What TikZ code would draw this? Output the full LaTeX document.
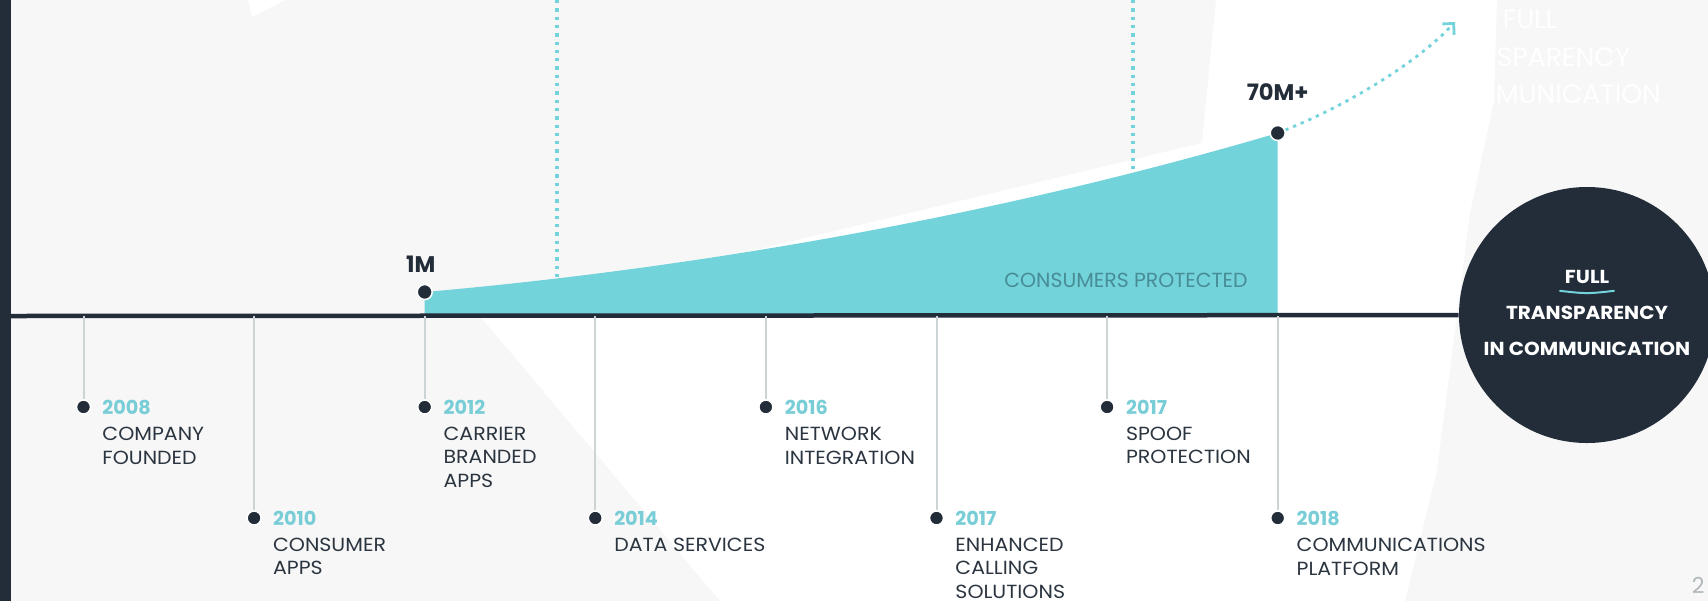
\documentclass[tikz,border=0pt]{standalone}
\usepackage{fontspec}
\setmainfont{Poppins}
\newfontfamily\widefont[FakeStretch=1.08]{Poppins}
\newfontfamily\goalfont[FakeStretch=1.065]{Poppins}
\usetikzlibrary{positioning,calc,arrows.meta}

\definecolor{navy}{RGB}{35,45,58}
\definecolor{aqua}{RGB}{115,211,218}
\definecolor{yearcol}{RGB}{120,205,215}
\definecolor{desccol}{RGB}{43,53,64}
\definecolor{stemcol}{RGB}{205,212,214}
\definecolor{bggray}{RGB}{247,247,247}
\definecolor{areacol}{RGB}{72,140,150}
\definecolor{pagecol}{RGB}{176,184,186}

\tikzset{
  dot/.style={circle, fill=navy, draw=white, line width=0.75pt, minimum size=7pt, inner sep=0pt},
  stem/.style={draw=stemcol, line width=1pt},
  guide/.style={draw=aqua, line width=1.75pt, dash pattern=on 1.65pt off 2.5pt},
  axis/.style={draw=navy, line width=2.25pt},
  year/.style={inner sep=0pt, text=yearcol, font=\fontsize{9.6}{12}\selectfont\bfseries},
  desc/.style={inner sep=0pt, align=left, text=desccol, font=\widefont\fontsize{9.5}{11.9}\selectfont},
  count/.style={inner sep=0pt, text=navy, font=\fontsize{11.3}{13}\selectfont\bfseries},
  goal/.style={circle, fill=navy, minimum size=128pt, inner sep=0pt},
  goaltext/.style={inner sep=0pt, text=white, font=\goalfont\fontsize{9.4}{11}\selectfont\bfseries},
  ghost/.style={inner sep=0pt, align=center, text=white, font=\fontsize{13.3}{18.75}\selectfont},
}

\begin{document}
\begin{tikzpicture}[x=0.5pt, y=-0.5pt]
        \useasboundingbox (0,0) rectangle (1708,601);

        % BACKGROUND
        % -----------------

        \fill[bggray] (0,0) rectangle (1708,601);
        \fill[white] (1216,0) -- (1497,0) -- (1494,100) -- (1470,213) -- (1437,470) -- (1405,601)
                     -- (720,601) -- (480,316) -- (1202,143) -- cycle;
        \fill[white] (248,0) -- (285,0) -- (252,17) -- cycle;
        \fill[navy] (0,0) rectangle (11,601);
        \node[ghost] (ghost) at (1530,57) {FULL\\TRANSPARENCY\\IN COMMUNICATION};

        % COORDINATES
        % -----------------

        \coordinate (start) at (11,316);
        \coordinate (b2008) at (83.5,316);
        \coordinate (b2010) at (254.1,316);
        \coordinate (b2012) at (424.7,316);
        \coordinate (b2014) at (595.3,316);
        \coordinate (b2016) at (765.9,316);
        \coordinate (b2017e) at (936.5,316);
        \coordinate (b2017s) at (1107.1,316);
        \coordinate (b2018) at (1277.7,316);

        \coordinate (p1M) at (424.7,292);
        \coordinate (p70M) at (1277.7,133);

        \coordinate (g1top) at (557,0);
        \coordinate (g1bot) at (557,316);
        \coordinate (g2top) at (1133,0);
        \coordinate (g2bot) at (1133,316);

        % GROWTH AREA
        % -----------------

        \draw[guide] (g1top) -- (g1bot);
        \draw[guide] (g2top) -- (g2bot);

        \fill[aqua] (p1M) .. controls (700,268) and (1000,215) .. (p70M) -- (b2018) -- (b2012) -- cycle;
        \node[inner sep=0pt, anchor=east, text=areacol, font=\fontsize{10.2}{12}\selectfont] (area) at (1248,280.7) {CONSUMERS PROTECTED};

        % TIMELINE
        % -----------------

        \node[goal] (goal) at (1587,315) {};
        \draw[axis] (start) -- (goal);

        \node[dot] (d2008) at (83.5,407) {};
        \node[dot] (d2010) at (254.1,518) {};
        \node[dot] (d2012) at (424.7,407) {};
        \node[dot] (d2014) at (595.3,518) {};
        \node[dot] (d2016) at (765.9,407) {};
        \node[dot] (d2017e) at (936.5,518) {};
        \node[dot] (d2017s) at (1107.1,407) {};
        \node[dot] (d2018) at (1277.7,518) {};

        \draw[stem] (b2008) -- (d2008);
        \draw[stem] (b2010) -- (d2010);
        \draw[stem] (b2012) -- (d2012);
        \draw[stem] (b2014) -- (d2014);
        \draw[stem] (b2016) -- (d2016);
        \draw[stem] (b2017e) -- (d2017e);
        \draw[stem] (b2017s) -- (d2017s);
        \draw[stem] (b2018) -- (d2018);

        % LABELS
        % -----------------

        \node[year, right=5.4pt of d2008] (y2008) {2008};
        \node[desc, below=5.9pt of y2008.south west, anchor=north west] (t2008) {COMPANY\\FOUNDED};

        \node[year, right=5.4pt of d2010] (y2010) {2010};
        \node[desc, below=5.9pt of y2010.south west, anchor=north west] (t2010) {CONSUMER\\APPS};

        \node[year, right=5.4pt of d2012] (y2012) {2012};
        \node[desc, below=5.9pt of y2012.south west, anchor=north west] (t2012) {CARRIER\\BRANDED\\APPS};

        \node[year, right=5.4pt of d2014] (y2014) {2014};
        \node[desc, below=5.9pt of y2014.south west, anchor=north west] (t2014) {DATA SERVICES};

        \node[year, right=5.4pt of d2016] (y2016) {2016};
        \node[desc, below=5.9pt of y2016.south west, anchor=north west] (t2016) {NETWORK\\INTEGRATION};

        \node[year, right=5.4pt of d2017e] (y2017e) {2017};
        \node[desc, below=5.9pt of y2017e.south west, anchor=north west] (t2017e) {ENHANCED\\CALLING\\SOLUTIONS};

        \node[year, right=5.4pt of d2017s] (y2017s) {2017};
        \node[desc, below=5.9pt of y2017s.south west, anchor=north west] (t2017s) {SPOOF\\PROTECTION};

        \node[year, right=5.4pt of d2018] (y2018) {2018};
        \node[desc, below=5.9pt of y2018.south west, anchor=north west] (t2018) {COMMUNICATIONS\\PLATFORM};

        % COUNTS
        % -----------------

        \coordinate (tip) at (1455,22);
        \draw[guide, line width=1.4pt, -{Straight Barb[length=4pt, width=8pt]}] (p70M) .. controls (1350,105) and (1420,60) .. (tip);

        \node[dot, minimum size=7.5pt] (m1) at (p1M) {};
        \node[dot, minimum size=7.5pt] (m70) at (p70M) {};
        \node[count, above=5.2pt of m1, xshift=-2pt] (c1M) {1M};
        \node[count, above=12pt of m70] (c70M) {70M+};

        % GOAL
        % -----------------

        \node[goaltext] (trans) at ($(goal)+(0,-2)$) {TRANSPARENCY};
        \node[goaltext, above=11pt of trans] (full) {FULL};
        \node[goaltext, below=11pt of trans] (incomm) {IN COMMUNICATION};
        \draw[aqua, line width=1pt, line cap=round] ($(full.south)+(-27,7)$) .. controls ($(full.south)+(0,10)$) .. ($(full.south)+(27,7)$);

        \node[inner sep=0pt, anchor=east, text=pagecol, font=\fontsize{11}{13}\selectfont] (page) at (1705,585) {2};

\end{tikzpicture}
\end{document}
